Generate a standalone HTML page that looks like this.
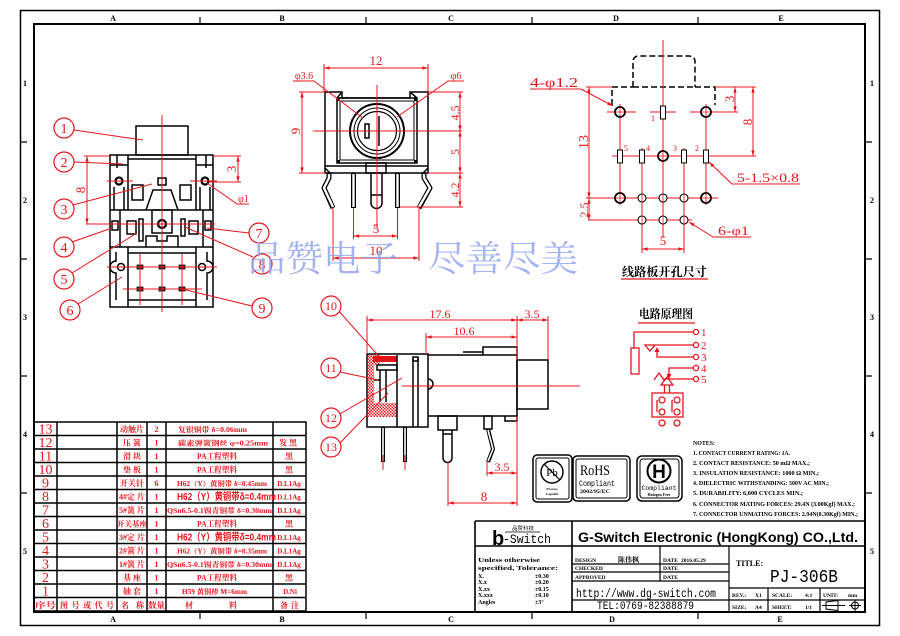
<!DOCTYPE html>
<html><head><meta charset="utf-8"><style>
html,body{margin:0;padding:0;background:#fff;overflow:hidden}
svg{display:block}
</style></head><body>
<svg width="900" height="636" viewBox="0 0 900 636" xmlns="http://www.w3.org/2000/svg" font-family="Liberation Serif, serif">
<defs>
<marker id="a" viewBox="0 0 10 6" refX="10" refY="3" markerWidth="6" markerHeight="3.4" orient="auto-start-reverse" markerUnits="userSpaceOnUse"><path d="M0,0 L10,3 L0,6z" fill="#e8141c"/></marker>
<pattern id="h" width="3" height="3" patternUnits="userSpaceOnUse"><rect width="3" height="3" fill="#fff"/><rect width="1.5" height="1.5" fill="#e8141c"/><rect x="1.5" y="1.5" width="1.5" height="1.5" fill="#e8141c"/></pattern>
</defs>
<rect width="900" height="636" fill="#fff"/>

<!-- FRAME -->
<g fill="none" stroke="#000">
<rect x="20.5" y="10.5" width="859" height="615" stroke-width="1.5"/>
<rect x="34" y="24" width="831" height="588" stroke-width="2"/>
<path d="M200,17V24M366,17V24M532,17V24M698,17V24M200,612V619M366,612V619M532,612V619M698,612V619M20,142H27M20,259H27M20,376H27M20,493H27M865,142H872M865,259H872M865,376H872M865,493H872" stroke-width="1.2"/>
</g>
<g font-size="8" font-weight="bold" text-anchor="middle">
<text x="113" y="21">A</text><text x="282" y="21">B</text><text x="451" y="21">C</text><text x="616" y="21">D</text><text x="781" y="21">E</text>
<text x="113" y="622">A</text><text x="282" y="622">B</text><text x="451" y="622">C</text><text x="612" y="622">D</text><text x="780" y="622">E</text>
<text x="25" y="86">1</text><text x="25" y="203">2</text><text x="25" y="320">3</text><text x="25" y="437">4</text><text x="25" y="554">5</text>
<text x="872" y="86">1</text><text x="872" y="203">2</text><text x="872" y="320">3</text><text x="872" y="437">4</text><text x="872" y="554">5</text>
</g>

<!-- LEFT VIEW -->
<g fill="none" stroke="#000" stroke-width="1.5">
<rect x="136" y="126" width="52" height="29"/>
<rect x="110" y="155" width="103" height="152"/>
<path d="M128,155V210M196,155V210M128,159H196M117,155V168M206,155V168M110,165H128M196,165H213"/>
<path d="M114,187V210M124,187V210M200,187V210M210,187V210"/>
<circle cx="119" cy="181" r="3.5" stroke-width="2.2"/>
<circle cx="205" cy="181" r="3.5" stroke-width="2.2"/>
<rect x="132" y="185" width="11" height="15"/>
<rect x="180" y="185" width="11" height="15"/>
<path d="M146,210L153,190H171L178,210"/>
<rect x="158" y="178" width="8" height="7"/>
<path d="M110,210H213M110,247H213"/>
<rect x="152" y="210" width="20" height="23"/>
<circle cx="162" cy="224" r="4" stroke-width="2.2"/>
<path d="M146,247V236H157V241H167V236H178V247"/>
<path d="M120,210V247M203,210V247"/>
<rect x="112" y="221" width="6" height="9"/>
<rect x="127" y="221" width="9" height="13"/>
<rect x="139" y="219" width="4" height="22"/>
<rect x="181" y="219" width="4" height="17"/>
<rect x="189" y="221" width="9" height="13"/>
<rect x="205" y="221" width="6" height="9"/>
<path d="M128,247V307M196,247V307M128,253H196M128,300H196"/>
<path d="M116,252V261A6,6 0 0 0 116,273V300"/>
<path d="M207,252V261A6,6 0 0 1 207,273V300"/>
<circle cx="121" cy="267" r="3.5"/>
<circle cx="202" cy="267" r="3.5"/>
</g>
<g fill="#333" stroke="#000" stroke-width="0.8">
<rect x="137" y="265" width="6" height="4"/><rect x="159" y="265" width="6" height="4"/><rect x="179" y="265" width="6" height="4"/>
<rect x="137" y="287" width="6" height="4"/><rect x="159" y="287" width="6" height="4"/><rect x="179" y="287" width="6" height="4"/>
</g>
<g stroke="#e8141c" stroke-width="1" fill="none">
<path d="M162,115V312M107,181H133M190,181H217M86,224H215M107,267H217M123,289H202M140,254V305M182,254V305M84,156H110M213,156H241M209,182H241"/>
<line x1="87" y1="156" x2="87" y2="224" marker-start="url(#a)" marker-end="url(#a)"/>
<line x1="238" y1="156" x2="238" y2="182" marker-start="url(#a)" marker-end="url(#a)"/>
<path d="M249,204H237L207,183"/>
<path d="M74,130L143,140M74,162L123,164M73,205L152,184M72,242L112,228M72,273L137,233M78,304L122,277M249,233L207,228M253,257L185,227M252,306L182,289"/>
</g>
<g fill="#e8141c" font-size="13">
<text transform="translate(85,190) rotate(-90)" text-anchor="middle">8</text>
<text transform="translate(236,169) rotate(-90)" text-anchor="middle">3</text>
<text x="238" y="202" font-size="10">φ1</text>
</g>

<!-- FRONT VIEW -->
<g fill="none" stroke="#000" stroke-width="1.5">
<path d="M325,173V92H342V98H410V92H428V173Z"/>
<rect x="337" y="98" width="80" height="65"/>
<rect x="340" y="101" width="74" height="59" stroke-width="1"/>
<path d="M325,166H428M342,92L337,98M410,92L417,98M325,168L330,173M428,168L423,173"/>
<circle cx="377" cy="131" r="27" stroke-width="2"/>
<circle cx="377" cy="131" r="23" stroke-width="1"/>
<circle cx="377" cy="131" r="19.5" stroke-width="1.2"/>
<path d="M379,116V146"/>
<rect x="365" y="124" width="4" height="14"/>
<rect x="366" y="163" width="20" height="10"/>
<path d="M371,173V203A5.5,5.5 0 0 0 382,203V173M371,195H382"/>
</g>
<g fill="#000"><rect x="337" y="98" width="3" height="3"/><rect x="414" y="98" width="3" height="3"/><rect x="337" y="160" width="3" height="3"/><rect x="414" y="160" width="3" height="3"/></g>
<g fill="none" stroke-linejoin="round">
<path d="M353.5,173V208M397.5,173V208M329,173V178L324,188L333,208M424,173V178L430,188L419,208" stroke="#000" stroke-width="5"/>
<path d="M353.5,174V207M397.5,174V207M329,174V178L324,188L333,207M424,174V178L430,188L419,207" stroke="#fff" stroke-width="2.4"/>
</g>
<g stroke="#e8141c" stroke-width="1" fill="none">
<path d="M377,85V228M313,131H462M324,64V92M428,64V92M299,92H325M299,173H325M428,92H463M428,173H463M400,207H463M353.5,208V239M397.5,208V239M333,208V261M419,208V261"/>
<line x1="324" y1="68" x2="428" y2="68" marker-start="url(#a)" marker-end="url(#a)"/>
<line x1="302" y1="92" x2="302" y2="173" marker-start="url(#a)" marker-end="url(#a)"/>
<line x1="460" y1="92" x2="460" y2="131" marker-start="url(#a)" marker-end="url(#a)"/>
<line x1="460" y1="131" x2="460" y2="173" marker-start="url(#a)" marker-end="url(#a)"/>
<line x1="460" y1="173" x2="460" y2="207" marker-start="url(#a)" marker-end="url(#a)"/>
<line x1="353.5" y1="236" x2="397.5" y2="236" marker-start="url(#a)" marker-end="url(#a)"/>
<line x1="333" y1="258" x2="419" y2="258" marker-start="url(#a)" marker-end="url(#a)"/>
<path d="M293,81H314L363,118M464,81H448L397,117"/>
</g>
<g fill="#e8141c" font-size="13" text-anchor="middle">
<text x="376" y="65">12</text>
<text transform="translate(300,131) rotate(-90)">9</text>
<text transform="translate(459,113) rotate(-90)" font-size="12">4.5</text>
<text transform="translate(459,152) rotate(-90)" font-size="12">5</text>
<text transform="translate(459,190) rotate(-90)" font-size="12">4.2</text>
<text x="376" y="233">5</text>
<text x="376" y="255">10</text>
<text x="304" y="79" font-size="10">φ3.6</text>
<text x="456" y="79" font-size="10">φ6</text>
</g>

<!-- PCB VIEW -->
<path d="M612,105V87H633M633,87V62Q633,56 639,56H689Q695,56 695,62V87M695,87H715V105M633,87H695" fill="none" stroke="#000" stroke-width="1.5" stroke-dasharray="6,3"/>
<g stroke="#e8141c" stroke-width="1" fill="none">
<path d="M663,40V237M607,112H636M650,112H676M690,112H720M612,156H713M586,198H718M588,220H692M620,104V205M706,104V205M642,148V253M684,148V253M586,87H612M715,87H756M711,112H738M713,156H756"/>
<line x1="589" y1="87" x2="589" y2="198" marker-start="url(#a)" marker-end="url(#a)"/>
<line x1="589" y1="198" x2="589" y2="220" marker-start="url(#a)" marker-end="url(#a)"/>
<line x1="735" y1="87" x2="735" y2="112" marker-start="url(#a)" marker-end="url(#a)"/>
<line x1="753" y1="87" x2="753" y2="156" marker-start="url(#a)" marker-end="url(#a)"/>
<line x1="642" y1="249" x2="684" y2="249" marker-start="url(#a)" marker-end="url(#a)"/>
<path d="M530,89H581L613,106" marker-end="url(#a)"/>
<path d="M800,184H732L709,162" marker-end="url(#a)"/>
<path d="M751,237H713L689,222" marker-end="url(#a)"/>
<path d="M621,279H708" stroke-width="1.2"/>
</g>
<g fill="#fff" stroke="#000">
<circle cx="620" cy="112" r="5" stroke-width="1.8"/><circle cx="706" cy="112" r="5" stroke-width="1.8"/>
<circle cx="663" cy="156" r="5" stroke-width="1.8"/>
<circle cx="620" cy="198" r="5" stroke-width="1.8"/><circle cx="706" cy="198" r="5" stroke-width="1.8"/>
<circle cx="642" cy="198" r="4" stroke-width="1.1"/><circle cx="663" cy="198" r="4" stroke-width="1.1"/><circle cx="684" cy="198" r="4" stroke-width="1.1"/>
<circle cx="642" cy="220" r="4" stroke-width="1.1"/><circle cx="663" cy="220" r="4" stroke-width="1.1"/><circle cx="684" cy="220" r="4" stroke-width="1.1"/>
<rect x="660.5" y="106" width="5" height="13" stroke-width="1"/>
<rect x="617.5" y="150" width="5" height="13" stroke-width="1"/><rect x="639.5" y="150" width="5" height="13" stroke-width="1"/>
<rect x="681.5" y="150" width="5" height="13" stroke-width="1"/><rect x="703.5" y="150" width="5" height="13" stroke-width="1"/>
</g>
<path d="M620,107V117M615,112H625M706,107V117M701,112H711M663,151V161M658,156H668M620,193V203M615,198H625M706,193V203M701,198H711M663,194V202M642,194V202M684,194V202M642,216V224M663,216V224M684,216V224" stroke="#e8141c" stroke-width="0.8"/>
<g fill="#e8141c" font-size="13">
<text transform="translate(588,142) rotate(-90)" text-anchor="middle" font-size="14">13</text>
<text transform="translate(588,210) rotate(-90)" text-anchor="middle" font-size="12">2.5</text>
<text transform="translate(734,99) rotate(-90)" text-anchor="middle">3</text>
<text transform="translate(752,122) rotate(-90)" text-anchor="middle">8</text>
<text x="663" y="245" text-anchor="middle">5</text>
<text x="530" y="87" font-size="14" textLength="48" lengthAdjust="spacingAndGlyphs">4-φ1.2</text>
<text x="737" y="182" font-size="13" textLength="62" lengthAdjust="spacingAndGlyphs">5-1.5×0.8</text>
<text x="718" y="235" font-size="13" textLength="31" lengthAdjust="spacingAndGlyphs">6-φ1</text>
<g font-size="8"><text x="651" y="121">1</text><text x="624" y="151">5</text><text x="646" y="151">4</text><text x="673" y="151">3</text><text x="695" y="151">2</text></g>
</g>
<text x="622" y="276" font-size="12" font-family="Liberation Serif, Noto Serif CJK SC, serif" font-weight="bold" textLength="85" lengthAdjust="spacingAndGlyphs">线路板开孔尺寸</text>

<!-- SIDE VIEW -->
<rect x="368" y="355" width="6" height="62" fill="url(#h)"/>
<rect x="368" y="403" width="29" height="14" fill="url(#h)"/>
<rect x="368" y="355" width="12" height="10" fill="url(#h)"/>
<rect x="373" y="356" width="24" height="6" fill="#e8141c"/>
<g fill="none" stroke="#000" stroke-width="1.5">
<rect x="367" y="354" width="61" height="73"/>
<path d="M428,355H517V416H428"/>
<path d="M428,379A5,5 0 0 1 428,389"/>
<rect x="517" y="360" width="31" height="49"/>
<path d="M483,355V347H517V355M463,352H483M505,416V421H517V416"/>
<rect x="438" y="416" width="19" height="14"/>
<path d="M443,430V458A4.5,4.5 0 0 0 452,458V430M443,434H452"/>
<rect x="484" y="416" width="8" height="13"/>
<path d="M397,355V427M413,358V427M418,358V427"/>
<rect x="413" y="357" width="5" height="4"/>
<rect x="377" y="365" width="20" height="5"/>
<path d="M380,370V402M386,370V402M374,380H380"/>
</g>
<g fill="none" stroke-linejoin="round">
<path d="M383,427V462M405,427V462M488,429L493,449L488,462" stroke="#000" stroke-width="4"/>
<path d="M383,428V461M405,428V461M488,430L493,449L488,461" stroke="#fff" stroke-width="1.6"/>
</g>
<g stroke="#e8141c" stroke-width="1" fill="none">
<path d="M402,386H580M383,455V470M405,455V470M367,316V354M426,333V355M517,316V360M548,316V360M487,462V476M448,462V506M517,416V506"/>
<line x1="367" y1="320" x2="517" y2="320" marker-start="url(#a)" marker-end="url(#a)"/>
<line x1="517" y1="320" x2="548" y2="320" marker-start="url(#a)" marker-end="url(#a)"/>
<line x1="426" y1="337" x2="517" y2="337" marker-start="url(#a)" marker-end="url(#a)"/>
<line x1="487" y1="473" x2="517" y2="473" marker-start="url(#a)" marker-end="url(#a)"/>
<line x1="448" y1="503" x2="517" y2="503" marker-start="url(#a)" marker-end="url(#a)"/>
<path d="M338,310L383,361M340,372L378,380M338,415L402,378M340,443L388,393"/>
</g>
<g fill="#e8141c" font-size="12" text-anchor="middle">
<text x="440" y="318">17.6</text><text x="532" y="318">3.5</text><text x="464" y="335">10.6</text>
<text x="502" y="471">3.5</text><text x="484" y="501" font-size="13">8</text>
</g>

<!-- BALLOONS -->
<g stroke="#e8141c" stroke-width="1.2" fill="#fff">
<circle cx="64" cy="128" r="10"/><circle cx="64" cy="162" r="10"/><circle cx="64" cy="209" r="10"/><circle cx="64" cy="247" r="10"/><circle cx="64" cy="279" r="10"/><circle cx="70" cy="310" r="10"/>
<circle cx="259" cy="233" r="10"/><circle cx="262" cy="264" r="10"/><circle cx="262" cy="308" r="10"/>
<circle cx="331" cy="306" r="10"/><circle cx="331" cy="368" r="10"/><circle cx="331" cy="418" r="10"/><circle cx="331" cy="447" r="10"/>
</g>
<g fill="#e8141c" font-size="14" text-anchor="middle">
<text x="64" y="133">1</text><text x="64" y="167">2</text><text x="64" y="214">3</text><text x="64" y="252">4</text><text x="64" y="284">5</text><text x="70" y="315">6</text>
<text x="259" y="238">7</text><text x="262" y="269">8</text><text x="262" y="313">9</text>
<g font-size="12"><text x="331" y="310">10</text><text x="331" y="372">11</text><text x="331" y="422">12</text><text x="331" y="451">13</text></g>
</g>

<!-- CIRCUIT -->
<text x="639" y="318" font-size="12" font-weight="bold" font-family="Liberation Serif, Noto Serif CJK SC, serif" textLength="54" lengthAdjust="spacingAndGlyphs">电路原理图</text>
<g stroke="#e8141c" stroke-width="1.3" fill="none">
<path d="M638,323H695"/>
<path d="M634,348V332H693.5M655,345H693.5M645,345H655L650,351Z M693.5,357H657V351M693.5,368H669V375M693.5,379H663M654,380L659,373L664,380M664.5,385V393M669.5,385V393"/>
<rect x="631" y="348" width="8" height="26"/>
<path d="M667,377L661,385H673Z"/>
<rect x="652" y="393" width="31" height="24"/>
<path d="M657,400V412M672,400V412"/>
</g>
<g fill="#e8141c"><path d="M657,347L654.5,352H659.5Z"/><path d="M669,379L666.5,374H671.5Z"/></g>
<g stroke="#e8141c" stroke-width="1.3" fill="#fff">
<circle cx="696" cy="332" r="2.6"/><circle cx="696" cy="345" r="2.6"/><circle cx="696" cy="357" r="2.6"/><circle cx="696" cy="368" r="2.6"/><circle cx="696" cy="379" r="2.6"/>
<circle cx="662" cy="400" r="3"/><circle cx="677" cy="400" r="3"/><circle cx="662" cy="412" r="3"/><circle cx="677" cy="412" r="3"/>
<circle cx="662" cy="423" r="3"/><circle cx="677" cy="423" r="3"/>
</g>
<g fill="#e8141c" font-size="11"><text x="701" y="336">1</text><text x="701" y="349">2</text><text x="701" y="361">3</text><text x="701" y="372">4</text><text x="701" y="383">5</text></g>

<!-- LOGOS -->
<g fill="none" stroke="#000">
<rect x="533" y="455" width="39" height="47" rx="4" stroke-width="1.5"/>
<rect x="536" y="458" width="33" height="41" rx="2" stroke-width="1"/>
<circle cx="552" cy="472" r="11" stroke-width="1.5"/>
<path d="M544,464L560,480" stroke-width="1.2"/>
<rect x="573" y="456" width="57" height="45" rx="4" stroke-width="1.5"/>
<rect x="576" y="459" width="51" height="39" rx="2" stroke-width="1"/>
<rect x="637" y="456" width="45" height="45" rx="5" stroke-width="1.5"/>
<rect x="640" y="459" width="39" height="39" rx="3" stroke-width="1"/>
<circle cx="659" cy="471" r="11.5" stroke-width="2"/>
</g>
<g fill="#000" text-anchor="middle">
<text x="552" y="476" font-size="11">Pb</text>
<text x="552" y="490" font-size="3.5" font-weight="bold">Process</text>
<text x="552" y="495" font-size="3.5" font-weight="bold">Capable</text>
<text x="659" y="478" font-size="19" font-weight="bold" font-family="Liberation Sans, sans-serif">H</text>
<text x="659" y="490" font-size="6.5" font-family="Liberation Mono, monospace">Compliant</text>
<text x="659" y="496" font-size="4" font-weight="bold">Halogen Free</text>
</g>
<g fill="#000">
<text x="580" y="475" font-size="15" textLength="30" lengthAdjust="spacingAndGlyphs">RoHS</text>
<text x="579" y="486" font-size="8.5" font-family="Liberation Mono, monospace" textLength="36" lengthAdjust="spacingAndGlyphs">Compliant</text>
<text x="580" y="493" font-size="5" font-weight="bold" textLength="30" lengthAdjust="spacingAndGlyphs">2002/95/EC</text>
</g>

<!-- NOTES -->
<g fill="#000" font-size="6.5" font-weight="bold">
<text x="693" y="445" textLength="22" lengthAdjust="spacingAndGlyphs">NOTES:</text>
<text x="693" y="455" textLength="97" lengthAdjust="spacingAndGlyphs">1. CONTACT CURRENT RATING: 1A.</text>
<text x="693" y="465" textLength="117" lengthAdjust="spacingAndGlyphs">2. CONTACT RESISTANCE: 50 mΩ MAX.;</text>
<text x="693" y="475" textLength="126" lengthAdjust="spacingAndGlyphs">3. INSULATION RESISTANCE: 1000 Ω MIN.;</text>
<text x="693" y="485" textLength="136" lengthAdjust="spacingAndGlyphs">4. DIELECTRIC WITHSTANDING: 500V AC MIN.;</text>
<text x="693" y="495" textLength="110" lengthAdjust="spacingAndGlyphs">5. DURABILITY: 6,000 CYCLES MIN.;</text>
<text x="693" y="506" textLength="162" lengthAdjust="spacingAndGlyphs">6. CONNECTOR MATING FORCES: 29.4N (3.00Kgf) MAX.;</text>
<text x="693" y="516" textLength="165" lengthAdjust="spacingAndGlyphs">7. CONNECTOR UNMATING FORCES: 2.94N(0.30Kgf) MIN.;</text>
</g>

<!-- PARTS TABLE -->
<g stroke="#000" stroke-width="1.5" fill="none">
<rect x="34" y="422" width="272" height="189"/>
<path d="M34,435.5H306M34,449H306M34,462.5H306M34,476H306M34,489.5H306M34,503H306M34,516.5H306M34,530H306M34,543.5H306M34,557H306M34,570.5H306M34,584H306M34,597.5H306"/>
<path d="M57,422V611M117,422V611M147,422V611M166,422V611M273,422V611"/>
</g>
<g fill="#e8141c" font-size="14" text-anchor="middle">
<text x="45.5" y="433.5">13</text><text x="45.5" y="447">12</text><text x="45.5" y="460.5">11</text><text x="45.5" y="474">10</text><text x="45.5" y="487.5">9</text><text x="45.5" y="501">8</text><text x="45.5" y="514.5">7</text><text x="45.5" y="528">6</text><text x="45.5" y="541.5">5</text><text x="45.5" y="555">4</text><text x="45.5" y="568.5">3</text><text x="45.5" y="582">2</text><text x="45.5" y="595.5">1</text>
</g>
<g fill="#e8141c" font-size="8" font-weight="bold" font-family="Liberation Serif, Noto Serif CJK SC, serif">
<g text-anchor="middle">
<text x="132" y="432">动触片</text><text x="132" y="445.5">压 簧</text><text x="132" y="459">滑 块</text><text x="132" y="472.5">垫 板</text><text x="132" y="486">开关针</text><text x="132" y="499.5">4#定 片</text><text x="132" y="513">5#簧 片</text><text x="132" y="526.5" font-size="7.5">开关基座</text><text x="132" y="540">3#定 片</text><text x="132" y="553.5">2#簧 片</text><text x="132" y="567">1#簧 片</text><text x="132" y="580.5">基 座</text><text x="132" y="594">轴 套</text>
<text x="156.5" y="432">2</text><text x="156.5" y="445.5">1</text><text x="156.5" y="459">1</text><text x="156.5" y="472.5">1</text><text x="156.5" y="486">6</text><text x="156.5" y="499.5">1</text><text x="156.5" y="513">1</text><text x="156.5" y="526.5">1</text><text x="156.5" y="540">1</text><text x="156.5" y="553.5">1</text><text x="156.5" y="567">1</text><text x="156.5" y="580.5">1</text><text x="156.5" y="594">1</text>
<text x="288" y="445.5">发 黑</text><text x="289" y="459">黑</text><text x="289" y="472.5">黑</text><text x="289" y="526.5">黑</text><text x="289" y="580.5">黑</text>
<text x="289" y="486" font-size="7">D.L1Ag</text><text x="289" y="499.5" font-size="7">D.L1Ag</text><text x="289" y="513" font-size="7">D.L1Ag</text><text x="289" y="540" font-size="7">D.L1Ag</text><text x="289" y="553.5" font-size="7">D.L1Ag</text><text x="289" y="567" font-size="7">D.L1Ag</text><text x="290" y="594" font-size="7">D.Ni</text>
</g>
<text x="178" y="432" font-size="7" textLength="69" lengthAdjust="spacingAndGlyphs">复银铜带 δ=0.06mm</text>
<text x="178" y="445.5" font-size="7" textLength="90" lengthAdjust="spacingAndGlyphs">碳素弹簧钢丝  φ=0.25mm</text>
<text x="197" y="459" textLength="40" lengthAdjust="spacingAndGlyphs">PA工程塑料</text>
<text x="197" y="472.5" textLength="40" lengthAdjust="spacingAndGlyphs">PA工程塑料</text>
<text x="177" y="486" font-size="7" textLength="90" lengthAdjust="spacingAndGlyphs">H62（Y）黄铜带 δ=0.45mm</text>
<text x="177" y="500" font-size="10" font-family="Liberation Sans, Noto Sans CJK SC, sans-serif" textLength="99" lengthAdjust="spacingAndGlyphs">H62（Y）黄铜带δ=0.4mm</text>
<text x="167" y="513" font-size="7" textLength="105" lengthAdjust="spacingAndGlyphs">QSn6.5-0.1锡青铜带 δ=0.30mm</text>
<text x="197" y="526.5" textLength="40" lengthAdjust="spacingAndGlyphs">PA工程塑料</text>
<text x="177" y="540.5" font-size="10" font-family="Liberation Sans, Noto Sans CJK SC, sans-serif" textLength="99" lengthAdjust="spacingAndGlyphs">H62（Y）黄铜带δ=0.4mm</text>
<text x="177" y="553.5" font-size="7" textLength="90" lengthAdjust="spacingAndGlyphs">H62（Y）黄铜带 δ=0.35mm</text>
<text x="167" y="567" font-size="7" textLength="105" lengthAdjust="spacingAndGlyphs">QSn6.5-0.1锡青铜带 δ=0.30mm</text>
<text x="197" y="580.5" textLength="40" lengthAdjust="spacingAndGlyphs">PA工程塑料</text>
<text x="182" y="594" font-size="7" textLength="65" lengthAdjust="spacingAndGlyphs">H59 黄铜棒  M=6mm</text>
<text x="35" y="608" textLength="21" lengthAdjust="spacingAndGlyphs">序号</text>
<text x="60" y="608" textLength="54">图 号 或 代 号</text>
<text x="121" y="608" textLength="23">名 称</text>
<text x="148" y="608" textLength="17" lengthAdjust="spacingAndGlyphs">数量</text>
<text x="185" y="608">材</text><text x="229" y="608">料</text>
<text x="280" y="608" textLength="19">备 注</text>
</g>

<!-- TITLE BLOCK -->
<g stroke="#000" fill="none">
<path d="M475,521H865M475,521V612M572,521V612M475,546H865" stroke-width="1.6"/>
<path d="M572,564H729M572,572H729M572,581H729M572,600H729M660,546V581M729,546V612M729,588H865M729,600H865M768,588V612M820,588V612" stroke-width="1.2"/>
</g>
<g fill="#000">
<text x="492" y="545" font-size="20" font-weight="bold" font-family="Liberation Sans, sans-serif">b</text>
<text x="503" y="543" font-size="13" font-family="Liberation Mono, monospace" textLength="48" lengthAdjust="spacingAndGlyphs">-Switch</text>
<text x="512" y="530" font-size="5" font-family="Liberation Sans, Noto Sans CJK SC, sans-serif" textLength="22" lengthAdjust="spacingAndGlyphs">品赞科技</text>
<path d="M505,532H540" stroke="#000" stroke-width="0.8"/>
<text x="578" y="542" font-size="14" font-weight="bold" font-family="Liberation Sans, sans-serif" textLength="280" lengthAdjust="spacingAndGlyphs">G-Switch Electronic (HongKong) CO.,Ltd.</text>
<g font-size="6" font-weight="bold">
<text x="478" y="562" textLength="62" lengthAdjust="spacingAndGlyphs">Unless otherwise</text>
<text x="478" y="570" textLength="80" lengthAdjust="spacingAndGlyphs">specified, Tolerance:</text>
<text x="478" y="578">X.</text><text x="535" y="578">±0.30</text>
<text x="478" y="584">X.x</text><text x="535" y="584">±0.20</text>
<text x="478" y="591">X.xx</text><text x="535" y="591">±0.15</text>
<text x="478" y="597">X.xxx</text><text x="535" y="597">±0.10</text>
<text x="478" y="604">Angles</text><text x="535" y="604">±3°</text>
<text x="575" y="562" font-size="5.5">DESIGN</text>
<text x="618" y="562" font-size="7" font-family="Liberation Serif, Noto Serif CJK SC, serif">陈伟枫</text>
<text x="663" y="562" font-size="5.5">DATE</text><text x="681" y="562" font-size="5.5">2016.05.29</text>
<text x="575" y="570" font-size="5.5">CHECKED</text><text x="663" y="570" font-size="5.5">DATE</text>
<text x="575" y="579" font-size="5.5">APPROVED</text><text x="663" y="579" font-size="5.5">DATE</text>
<text x="736" y="566" font-size="8">TITLE:</text>
<text x="732" y="597" font-size="5.5">REV.:</text><text x="755" y="597" font-size="5.5">X1</text>
<text x="772" y="597" font-size="5.5">SCALE:</text><text x="805" y="597" font-size="5.5">4:1</text>
<text x="823" y="597" font-size="5.5">UNIT:</text><text x="848" y="597" font-size="5.5">mm</text>
<text x="732" y="609" font-size="5.5">SIZE:</text><text x="755" y="609" font-size="5.5">A4</text>
<text x="772" y="609" font-size="5.5">SHEET:</text><text x="805" y="609" font-size="5.5">1/1</text>
</g>
<text x="576" y="597" font-size="12" font-family="Liberation Mono, monospace" textLength="140" lengthAdjust="spacingAndGlyphs">http://www.dg-switch.com</text>
<text x="597" y="609" font-size="11" font-family="Liberation Mono, monospace" textLength="97" lengthAdjust="spacingAndGlyphs">TEL:0769-82388879</text>
<text x="770" y="582" font-size="18" font-family="Liberation Mono, monospace" textLength="68" lengthAdjust="spacingAndGlyphs">PJ-306B</text>
</g>
<g fill="none" stroke="#000" stroke-width="1">
<path d="M826,602V609L838,610.5V600.5ZM822,605.5H845"/>
<circle cx="855" cy="605.5" r="3.5"/><path d="M849,605.5H861M855,600V611"/>
</g>

<!-- WATERMARK -->
<g fill="#93a6ef" opacity="0.85" font-size="36" font-family="Noto Serif CJK SC, serif">
<text x="248" y="271" textLength="150" lengthAdjust="spacingAndGlyphs">品赞电子</text>
<text x="428" y="271" textLength="150" lengthAdjust="spacingAndGlyphs">尽善尽美</text>
</g>
</svg>
</body></html>
